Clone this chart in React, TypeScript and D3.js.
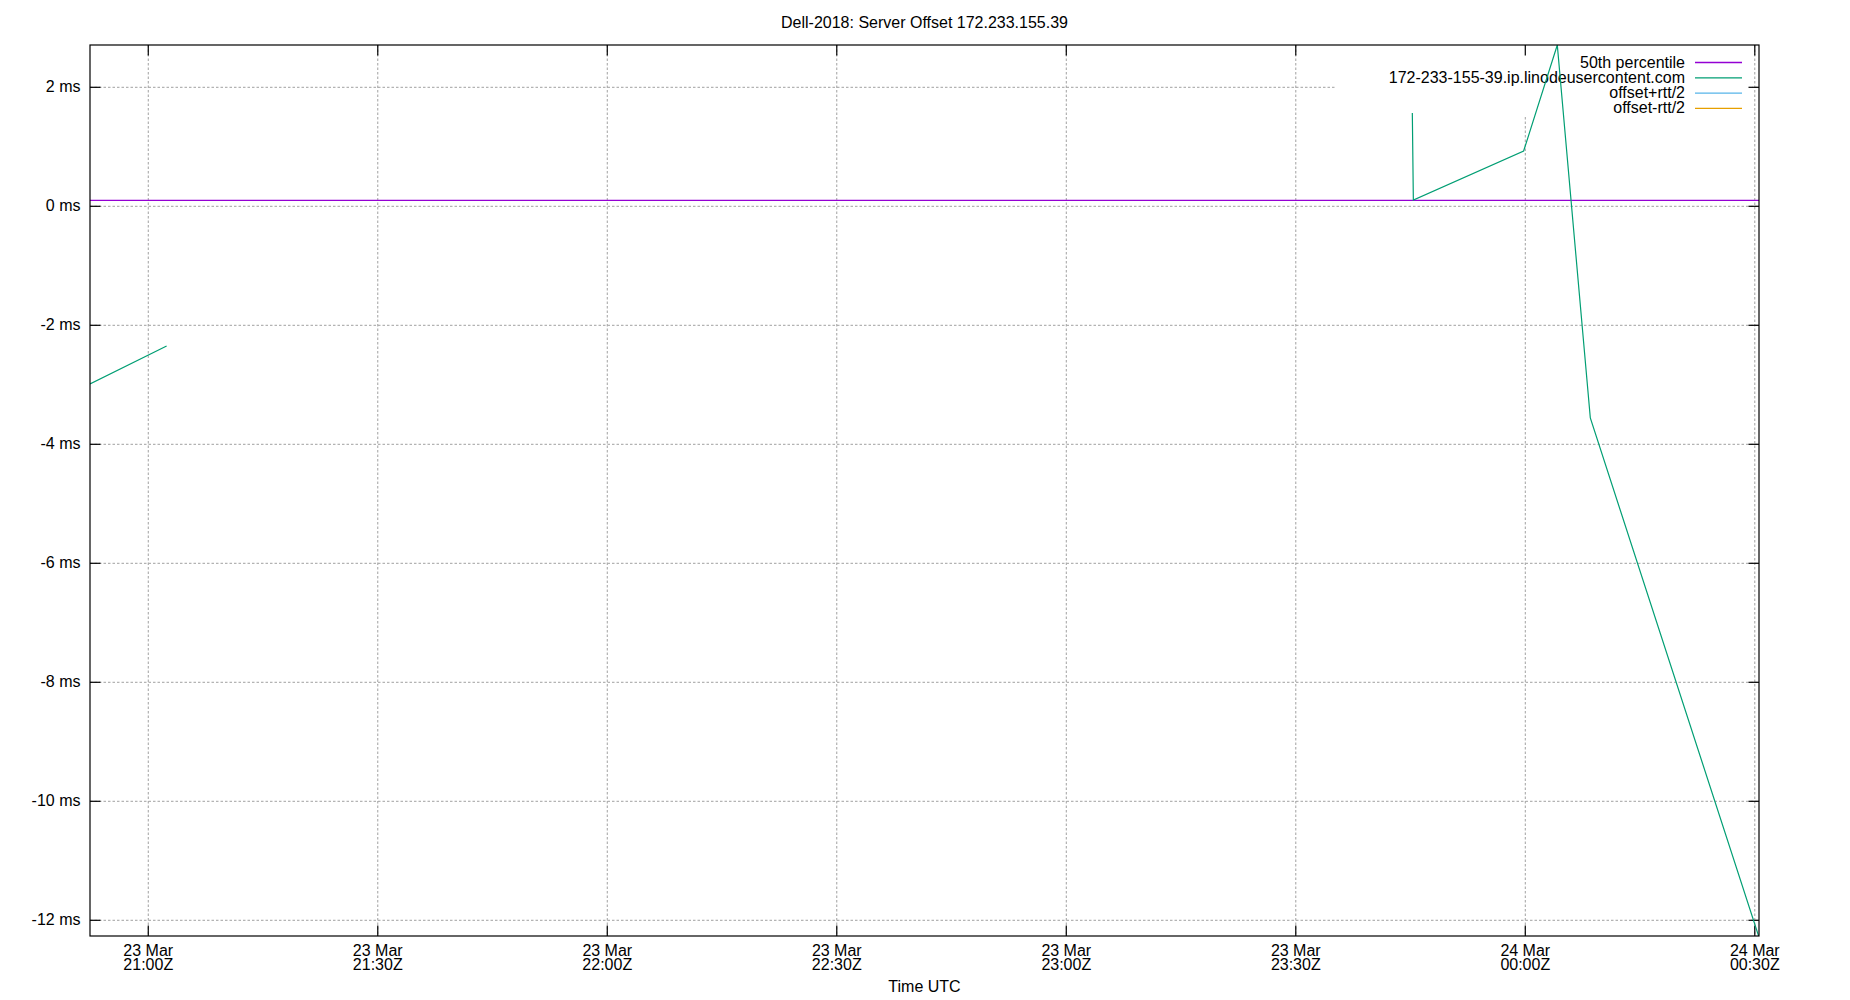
import React from "react";
import * as d3 from "d3";

const TITLE = "Dell-2018: Server Offset 172.233.155.39";
const X_LABEL = "Time UTC";

const t = (s: string) => new Date(s);

// x domain (data extent)
const X_DOMAIN = [t("2018-03-23T20:52:23Z"), t("2018-03-24T00:30:33Z")];
const Y_DOMAIN = [-12.264, 2.711];

const X_TICKS = [
  "2018-03-23T21:00:00Z",
  "2018-03-23T21:30:00Z",
  "2018-03-23T22:00:00Z",
  "2018-03-23T22:30:00Z",
  "2018-03-23T23:00:00Z",
  "2018-03-23T23:30:00Z",
  "2018-03-24T00:00:00Z",
  "2018-03-24T00:30:00Z",
];
const Y_TICKS = [2, 0, -2, -4, -6, -8, -10, -12];

const PERCENTILE_50 = 0.1;

const SERVER_TIMES = [
  "2018-03-23T20:52:23Z",
  "2018-03-23T21:02:24Z",
  null,
  "2018-03-23T23:45:14Z",
  "2018-03-23T23:45:22Z",
  "2018-03-23T23:59:47Z",
  "2018-03-24T00:04:11Z",
  "2018-03-24T00:08:30Z",
  "2018-03-24T00:30:30Z",
];
const SERVER_OFFSETS = [-2.987, -2.348, null, 1.568, 0.106, 0.929, 2.711, -3.558, -12.264];

const LEGEND = [
  { label: "50th percentile", color: "#9400d3" },
  { label: "172-233-155-39.ip.linodeusercontent.com", color: "#009e73" },
  { label: "offset+rtt/2", color: "#56b4e9" },
  { label: "offset-rtt/2", color: "#e69f00" },
];

const W = 1850;
const H = 1000;
const L = 90;
const R = 1759;
const T = 45;
const B = 936;
const FONT = "'Liberation Sans', Arial, sans-serif";

export default function App() {
  const x = d3.scaleUtc().domain(X_DOMAIN).range([L, R]);
  const y = d3.scaleLinear().domain(Y_DOMAIN).range([B, T]);
  const fmtDay = d3.utcFormat("%d %b");
  const fmtTime = d3.utcFormat("%H:%MZ");

  const pts = SERVER_TIMES.map((s, i) => ({
    t: s ? t(s) : null,
    v: SERVER_OFFSETS[i],
  }));
  const line = d3
    .line<{ t: Date | null; v: number | null }>()
    .defined((d) => d.t !== null && d.v !== null)
    .x((d) => x(d.t as Date))
    .y((d) => y(d.v as number));

  const grid = "#a0a0a0";
  const dash = "2.5,2";
  const tick = 10.5;

  return (
    <div style={{ position: "absolute", left: 0, top: 0 }}>
      <svg width={W} height={H} style={{ display: "block", background: "#fff" }} fontFamily={FONT}>
        <rect x={0} y={0} width={W} height={H} fill="#fff" />
        <defs>
          <clipPath id="plot">
            <rect x={L} y={T} width={R - L} height={B - T} />
          </clipPath>
        </defs>
        {/* grid */}
        {Y_TICKS.map((v) => (
          <line key={"gy" + v} x1={L} x2={R} y1={y(v)} y2={y(v)} stroke={grid} strokeDasharray={dash} strokeWidth={1} />
        ))}
        {X_TICKS.map((s) => (
          <line key={"gx" + s} x1={x(t(s))} x2={x(t(s))} y1={T} y2={B} stroke={grid} strokeDasharray={dash} strokeWidth={1} />
        ))}
        {/* key box (opaque) */}
        <rect x={1336} y={T + 1} width={1752 - 1336} height={115 - T - 1} fill="#fff" />
        {/* ticks */}
        {Y_TICKS.map((v) => (
          <g key={"ty" + v}>
            <line x1={L} x2={L + tick} y1={y(v)} y2={y(v)} stroke="#000" strokeWidth={1.2} />
            <line x1={R} x2={R - tick} y1={y(v)} y2={y(v)} stroke="#000" strokeWidth={1.2} />
            <text x={L - 9.5} y={y(v) + 5} textAnchor="end" fontSize={16} fill="#000">
              {v + " ms"}
            </text>
          </g>
        ))}
        {X_TICKS.map((s) => {
          const d = t(s);
          const px = x(d);
          return (
            <g key={"tx" + s}>
              <line x1={px} x2={px} y1={B} y2={B - tick} stroke="#000" strokeWidth={1.2} />
              <line x1={px} x2={px} y1={T} y2={T + tick} stroke="#000" strokeWidth={1.2} />
              <text x={px} y={B + 20} textAnchor="middle" fontSize={16} fill="#000">
                {fmtDay(d)}
              </text>
              <text x={px} y={B + 33.5} textAnchor="middle" fontSize={16} fill="#000">
                {fmtTime(d)}
              </text>
            </g>
          );
        })}
        {/* legend */}
        {LEGEND.map((e, i) => {
          const ly = 62.5 + i * 15.3;
          return (
            <g key={e.label}>
              <text x={1685} y={ly + 5} textAnchor="end" fontSize={16} fill="#000">
                {e.label}
              </text>
              <line x1={1695} x2={1742} y1={ly} y2={ly} stroke={e.color} strokeWidth={1.3} />
            </g>
          );
        })}
        {/* data */}
        <g clipPath="url(#plot)">
          <line x1={L} x2={R} y1={y(PERCENTILE_50)} y2={y(PERCENTILE_50)} stroke="#9400d3" strokeWidth={1.3} />
          <path d={line(pts) || ""} fill="none" stroke="#009e73" strokeWidth={1.2} />
        </g>
        {/* border */}
        <rect x={L} y={T} width={R - L} height={B - T} fill="none" stroke="#000" strokeWidth={1.2} />
        {/* titles */}
        <text x={(L + R) / 2} y={28} textAnchor="middle" fontSize={16} fill="#000">
          {TITLE}
        </text>
        <text x={(L + R) / 2} y={1003.5 - 12} textAnchor="middle" fontSize={16} fill="#000">
          {X_LABEL}
        </text>
      </svg>
    </div>
  );
}
